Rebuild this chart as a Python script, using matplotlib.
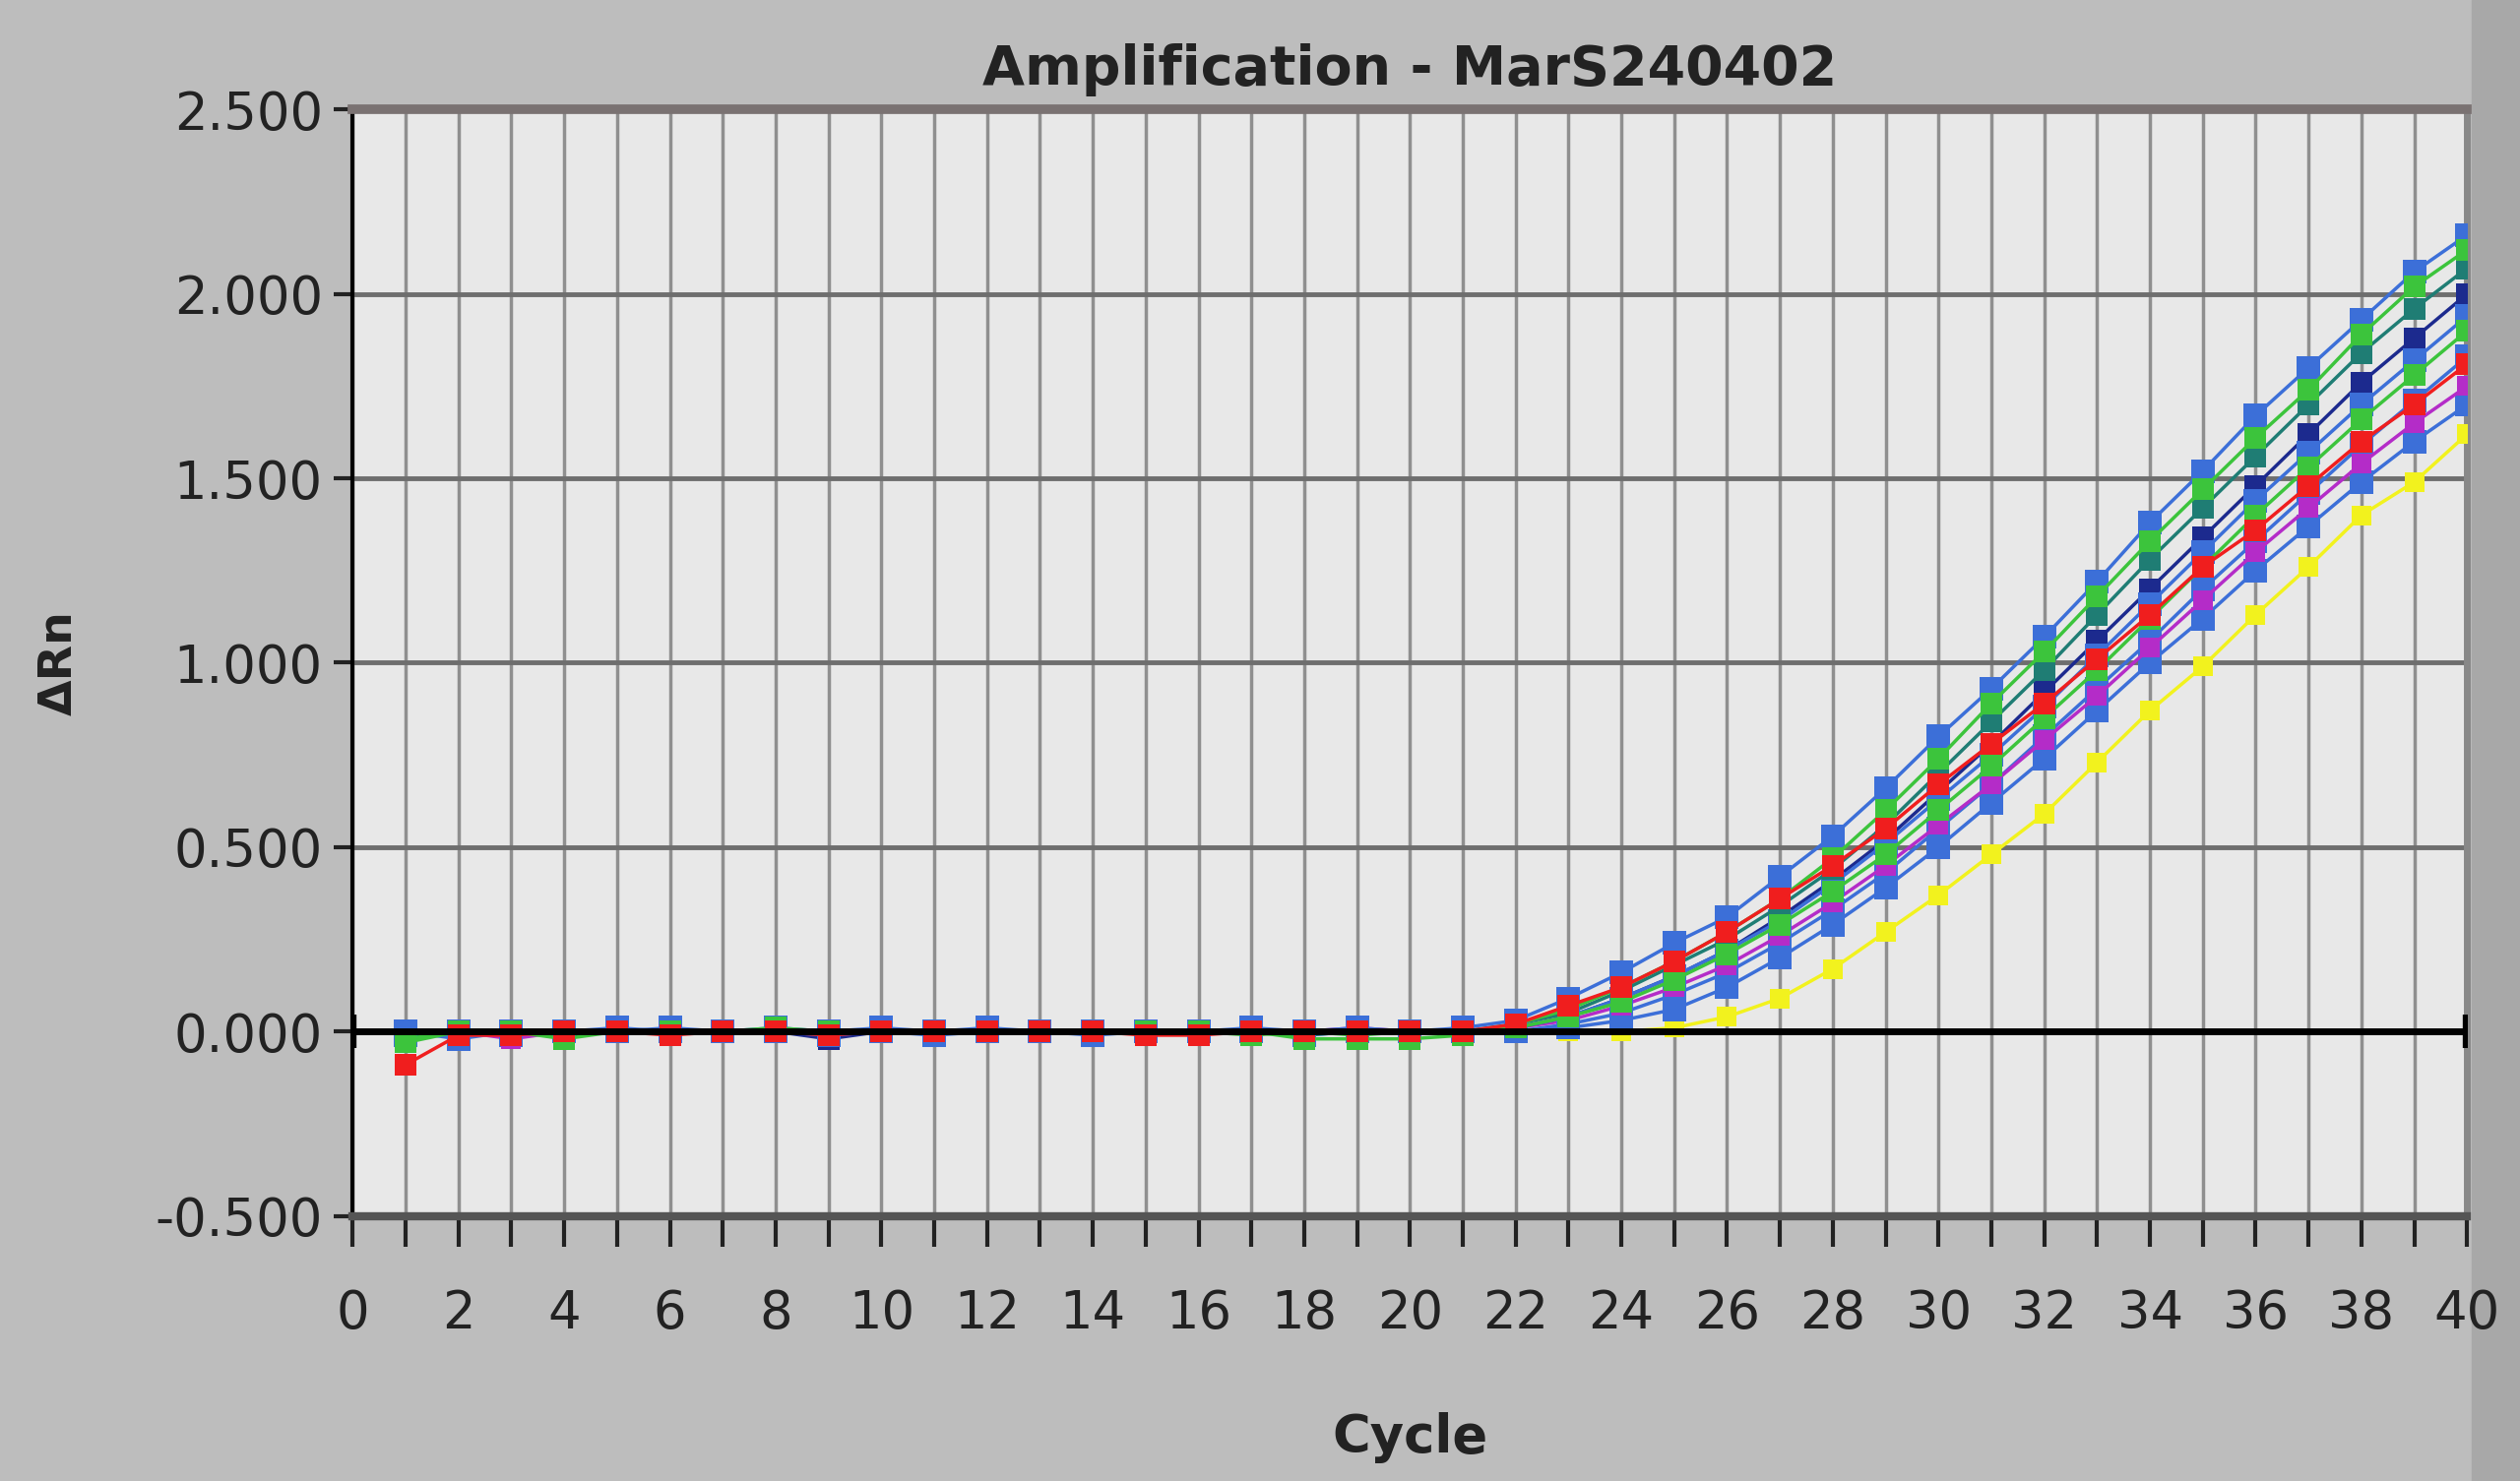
import matplotlib.pyplot as plt
from matplotlib.patches import Rectangle
from matplotlib.ticker import FormatStrFormatter, MultipleLocator

cycles = list(range(1, 41))
threshold = 0.0

# delta Rn per well, cycles 1..40
blue_a = [0.0, -0.01, 0.0, 0.0, 0.01, 0.0, 0.0, 0.0, -0.01, 0.0, 0.0, 0.01, 0.0, 0.0, 0.0, 0.0, 0.01, 0.0, 0.0, 0.0, 0.01,
          0.03, 0.09, 0.16, 0.24, 0.31, 0.42, 0.53, 0.66, 0.80, 0.93, 1.07, 1.22, 1.38, 1.52, 1.67, 1.80, 1.93, 2.06, 2.16]
blue_b = [-0.01, 0.0, 0.0, 0.0, 0.0, 0.01, 0.0, 0.0, 0.0, 0.0, -0.01, 0.0, 0.0, 0.0, 0.0, 0.0, 0.0, 0.0, 0.01, 0.0, 0.0,
          0.01, 0.04, 0.09, 0.15, 0.22, 0.30, 0.40, 0.51, 0.63, 0.75, 0.88, 1.02, 1.16, 1.30, 1.44, 1.57, 1.70, 1.82, 1.94]
blue_c = [0.0, -0.02, 0.0, 0.0, 0.0, 0.0, 0.0, 0.01, 0.0, 0.0, 0.0, 0.0, 0.0, -0.01, 0.0, 0.0, 0.0, 0.0, 0.0, 0.0, 0.0,
          0.0, 0.01, 0.03, 0.06, 0.12, 0.20, 0.29, 0.39, 0.50, 0.62, 0.74, 0.87, 1.00, 1.12, 1.25, 1.37, 1.49, 1.60, 1.70]
blue_d = [0.0, 0.0, -0.01, 0.0, 0.0, 0.0, 0.0, 0.0, 0.0, 0.01, 0.0, 0.0, 0.0, 0.0, 0.0, 0.0, 0.0, -0.01, 0.0, 0.0, 0.0,
          0.0, 0.02, 0.05, 0.10, 0.16, 0.24, 0.33, 0.43, 0.55, 0.67, 0.80, 0.93, 1.06, 1.20, 1.33, 1.46, 1.59, 1.71, 1.83]
navy = [0.0, 0.0, 0.0, -0.01, 0.0, 0.0, 0.0, 0.0, -0.02, 0.0, 0.0, 0.0, 0.0, 0.0, 0.0, 0.0, 0.0, 0.0, 0.0, 0.0, 0.0,
        0.01, 0.04, 0.09, 0.15, 0.22, 0.31, 0.41, 0.52, 0.65, 0.78, 0.92, 1.06, 1.20, 1.34, 1.48, 1.62, 1.76, 1.88, 2.00]
teal = [-0.02, 0.0, 0.0, 0.0, 0.0, 0.0, 0.0, 0.0, 0.0, 0.0, 0.0, 0.0, 0.0, 0.0, 0.0, 0.0, 0.0, -0.01, 0.0, 0.0, 0.0,
        0.02, 0.05, 0.11, 0.18, 0.25, 0.34, 0.44, 0.56, 0.70, 0.84, 0.98, 1.13, 1.28, 1.42, 1.56, 1.70, 1.84, 1.96, 2.07]
magenta = [-0.01, 0.0, -0.02, 0.0, 0.0, 0.0, 0.0, 0.0, 0.0, 0.0, 0.0, 0.0, 0.0, 0.0, 0.0, 0.0, 0.0, 0.0, 0.01, 0.0, 0.0,
           0.01, 0.03, 0.07, 0.12, 0.18, 0.26, 0.35, 0.45, 0.56, 0.67, 0.79, 0.91, 1.04, 1.17, 1.30, 1.42, 1.54, 1.65, 1.75]
green_a = [-0.03, 0.0, 0.0, -0.02, 0.0, 0.0, 0.0, 0.01, 0.0, 0.0, 0.0, 0.0, 0.0, 0.0, 0.0, 0.0, 0.0, -0.02, -0.02, -0.02, -0.01,
           0.02, 0.06, 0.12, 0.19, 0.27, 0.36, 0.47, 0.60, 0.74, 0.89, 1.03, 1.18, 1.33, 1.47, 1.61, 1.74, 1.89, 2.02, 2.12]
green_b = [-0.02, 0.0, 0.0, 0.0, 0.0, 0.0, 0.0, 0.0, 0.0, 0.0, 0.0, 0.0, 0.0, 0.0, 0.0, 0.0, -0.01, 0.0, -0.01, 0.0, 0.0,
           0.01, 0.04, 0.08, 0.14, 0.21, 0.29, 0.38, 0.48, 0.60, 0.72, 0.85, 0.98, 1.12, 1.26, 1.40, 1.53, 1.66, 1.78, 1.90]
red = [-0.09, -0.01, -0.01, 0.0, 0.0, -0.01, 0.0, 0.0, -0.01, 0.0, 0.0, 0.0, 0.0, 0.0, -0.01, -0.01, 0.0, 0.0, 0.0, 0.0, 0.0,
       0.02, 0.07, 0.12, 0.19, 0.27, 0.36, 0.45, 0.55, 0.67, 0.78, 0.89, 1.01, 1.13, 1.26, 1.36, 1.48, 1.60, 1.70, 1.81]
yellow = [0.0, 0.0, 0.0, 0.0, 0.0, 0.0, 0.0, 0.0, 0.0, 0.0, 0.0, 0.0, 0.0, 0.0, 0.0, 0.0, 0.0, 0.0, 0.0, 0.0, 0.0,
          0.0, 0.0, 0.0, 0.01, 0.04, 0.09, 0.17, 0.27, 0.37, 0.48, 0.59, 0.73, 0.87, 0.99, 1.13, 1.26, 1.40, 1.49, 1.62]

wells = [
    (yellow, '#f2f21e', 14),
    (blue_c, '#3c6fd8', 17),
    (blue_d, '#3c6fd8', 17),
    (magenta, '#b42cc8', 15),
    (navy, '#1c2a8e', 16),
    (blue_b, '#3c6fd8', 17),
    (teal, '#1f7d74', 16),
    (blue_a, '#3c6fd8', 17),
    (green_b, '#3cc43c', 16),
    (green_a, '#3cc43c', 16),
    (red, '#f01e1e', 16),
]

fig = plt.figure(figsize=(25.6, 15.05), dpi=100, facecolor='#bdbdbd')
fig.patches.append(Rectangle((0.981, 0), 0.019, 1, transform=fig.transFigure,
                             color='#a8a8a8', zorder=-10))
ax = fig.add_axes([0.140, 0.179, 0.839, 0.747])
ax.set_facecolor('#e8e8e8')

for vals, col, size in wells:
    ax.plot(cycles, vals, color=col, lw=2.5, marker='s', ms=size,
            markeredgewidth=0, zorder=3)

# threshold
ax.plot([0, 40], [threshold, threshold], color='black', lw=5, zorder=4,
        marker='|', ms=24, mew=6)

ax.set_xlim(0, 40)
ax.set_ylim(-0.5, 2.5)
ax.xaxis.set_major_locator(MultipleLocator(2))
ax.xaxis.set_minor_locator(MultipleLocator(1))
ax.yaxis.set_major_locator(MultipleLocator(0.5))
ax.yaxis.set_major_formatter(FormatStrFormatter('%.3f'))

ax.grid(which='both', axis='x', color='#8f8f8f', lw=2.5, zorder=1)
ax.grid(which='major', axis='y', color='#6e6e6e', lw=3.5, zorder=1)
ax.set_axisbelow(True)

ax.tick_params(axis='x', which='both', direction='out', length=22, width=3,
               color='#222222', labelsize=38, pad=31, labelcolor='#222222')
ax.tick_params(axis='y', direction='out', length=14, width=3,
               color='#222222', labelsize=38, pad=8, labelcolor='#222222')

ax.spines['top'].set_color('#7a7272')
ax.spines['top'].set_linewidth(7)
ax.spines['bottom'].set_color('#555555')
ax.spines['bottom'].set_linewidth(6)
ax.spines['left'].set_color('black')
ax.spines['left'].set_linewidth(3)
ax.spines['right'].set_color('#888888')
ax.spines['right'].set_linewidth(5)

ax.set_title('Amplification - MarS240402', fontsize=40, fontweight='bold',
             color='#222222', pad=18)
ax.set_xlabel('Cycle', fontsize=38, fontweight='bold', color='#222222', labelpad=53)
ax.set_ylabel('ΔRn', fontsize=34, fontweight='bold', color='#222222', labelpad=54)

fig.savefig('out.png', dpi=100, facecolor=fig.get_facecolor())
